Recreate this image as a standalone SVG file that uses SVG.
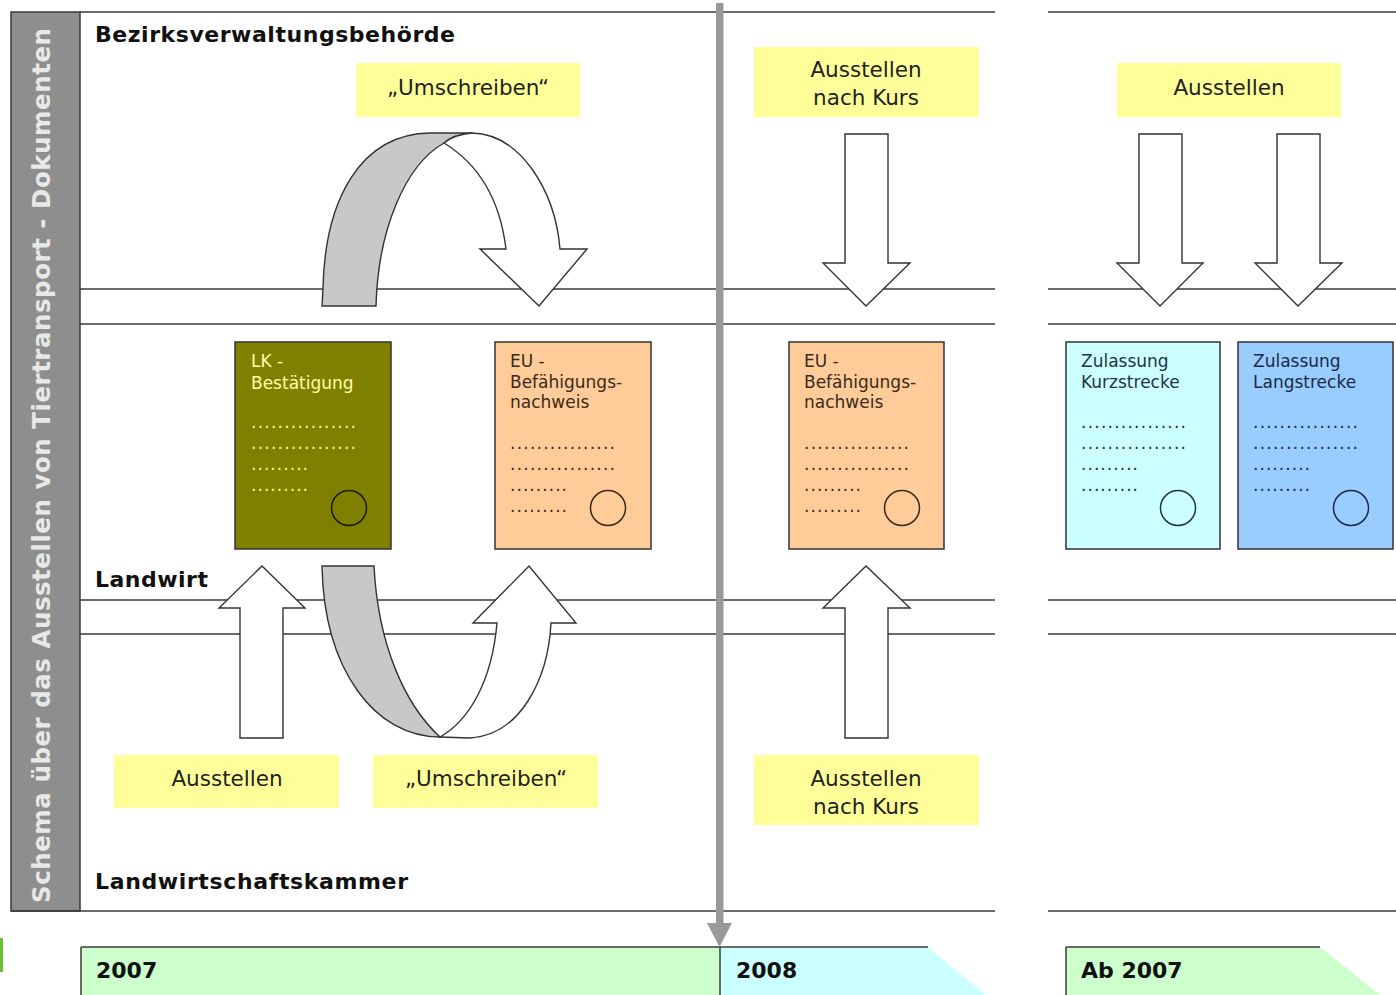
<svg xmlns="http://www.w3.org/2000/svg" width="1396" height="995" viewBox="0 0 1396 995">
<style>
.ln{stroke:#3a3a3a;stroke-width:1.5;fill:none}
.lbl{font-family:"DejaVu Sans","Liberation Sans",sans-serif;font-weight:bold;font-size:22px;fill:#111}
.yb{fill:#ffff99}
.yt{font-family:"DejaVu Sans","Liberation Sans",sans-serif;font-size:21.5px;fill:#222;text-anchor:middle}
.doc{stroke:#333;stroke-width:1.5}
.dt{font-family:"DejaVu Sans","Liberation Sans",sans-serif;font-size:17px}
.arr{fill:#fff;stroke:#333;stroke-width:1.4;stroke-linejoin:miter}
.band{fill:#c8c8c8;stroke:#333;stroke-width:1.4}
.yr{font-family:"DejaVu Sans","Liberation Sans",sans-serif;font-weight:bold;font-size:22px;fill:#111}
</style>

<g id="side-bar">
<rect x="11" y="12" width="69" height="899" fill="#8e8e8e" stroke="#3a3a3a" stroke-width="1.5"/>
<text transform="translate(50,465.5) rotate(-90)" text-anchor="middle" textLength="875" lengthAdjust="spacing" font-family="DejaVu Sans, Liberation Sans, sans-serif" font-weight="bold" font-size="24.5" fill="#e8e8e8">Schema über das Ausstellen von Tiertransport - Dokumenten</text>
</g>

<g id="lanes">
<line class="ln" x1="80" y1="12" x2="995" y2="12"/>
<line class="ln" x1="1048" y1="12" x2="1396" y2="12"/>
<line class="ln" x1="80" y1="289" x2="995" y2="289"/>
<line class="ln" x1="1048" y1="289" x2="1396" y2="289"/>
<line class="ln" x1="80" y1="324" x2="995" y2="324"/>
<line class="ln" x1="1048" y1="324" x2="1396" y2="324"/>
<line class="ln" x1="80" y1="600" x2="995" y2="600"/>
<line class="ln" x1="1048" y1="600" x2="1396" y2="600"/>
<line class="ln" x1="80" y1="634" x2="995" y2="634"/>
<line class="ln" x1="1048" y1="634" x2="1396" y2="634"/>
<line class="ln" x1="11" y1="911" x2="995" y2="911"/>
<line class="ln" x1="1048" y1="911" x2="1396" y2="911"/>
</g>

<g id="lane-labels">
<text class="lbl" x="95" y="42" textLength="360" lengthAdjust="spacing">Bezirksverwaltungsbehörde</text>
<text class="lbl" x="95" y="587" textLength="113" lengthAdjust="spacing">Landwirt</text>
<text class="lbl" x="95" y="889" textLength="313" lengthAdjust="spacing">Landwirtschaftskammer</text>
</g>

<g id="connectors">
<!-- top curved Umschreiben -->
<path class="band" d="M322,306 L323,288 C325,200 360,134 430,133 L472,133 C460,134 450,138 444,143 C405,165 378,230 376,306 Z"/>
<path class="arr" d="M472,133 C520,134 555,190 560,249 L587,249 L539,306 L480,249 L506,249 C500,200 480,165 444,143 C450,138 460,134 472,133 Z"/>
<!-- bottom curved Umschreiben -->
<path class="band" d="M322,566 L374,566 C378,645 405,705 440,737 C375,737 324,670 322,566 Z"/>
<path class="arr" d="M440,737 L470,738 C520,735 548,680 551,623 L576,623 L529,566 L473,623 L497,623 C492,680 470,720 440,737 Z"/>
<!-- straight up arrows -->
<path class="arr" d="M240,738 L240,608 L219,608 L262,566 L305,608 L283,608 L283,738 Z"/>
<path class="arr" d="M845,738 L845,608 L823,608 L866,566 L910,608 L888,608 L888,738 Z"/>
<!-- straight down arrows -->
<path class="arr" d="M845,134 L888,134 L888,263 L910,263 L866,306 L823,263 L845,263 Z"/>
<path class="arr" d="M1139,134 L1182,134 L1182,263 L1203,263 L1160,306 L1117,263 L1139,263 Z"/>
<path class="arr" d="M1277,134 L1320,134 L1320,263 L1342,263 L1298,306 L1255,263 L1277,263 Z"/>
</g>

<g id="label-umschreiben-top">
<rect class="yb" x="356" y="63" width="224" height="54"/>
<text class="yt" x="468" y="95">„Umschreiben“</text>
</g>
<g id="label-kurs-top">
<rect class="yb" x="754" y="47" width="225" height="70"/>
<text class="yt" x="866" y="77">Ausstellen</text>
<text class="yt" x="866" y="105">nach Kurs</text>
</g>
<g id="label-ausstellen-right">
<rect class="yb" x="1117" y="63" width="224" height="54"/>
<text class="yt" x="1229" y="95">Ausstellen</text>
</g>
<g id="label-ausstellen-bottom">
<rect class="yb" x="114" y="755" width="225" height="53"/>
<text class="yt" x="227" y="786">Ausstellen</text>
</g>
<g id="label-umschreiben-bottom">
<rect class="yb" x="373" y="755" width="225" height="53"/>
<text class="yt" x="486" y="786">„Umschreiben“</text>
</g>
<g id="label-kurs-bottom">
<rect class="yb" x="754" y="755" width="225" height="70"/>
<text class="yt" x="866" y="786">Ausstellen</text>
<text class="yt" x="866" y="814">nach Kurs</text>
</g>

<g id="doc-lk">
<rect class="doc" x="235" y="342" width="156" height="207" fill="#808000" stroke="#222"/>
<text class="dt" x="251" y="367" fill="#ffffa8">LK -</text>
<text class="dt" x="251" y="389" fill="#ffffa8">Bestätigung</text>
<text class="dt" x="251" y="428" fill="#ffff66" textLength="105" lengthAdjust="spacing">................</text>
<text class="dt" x="251" y="449" fill="#ffff66" textLength="105" lengthAdjust="spacing">................</text>
<text class="dt" x="251" y="470" fill="#ffff66" textLength="57" lengthAdjust="spacing">.........</text>
<text class="dt" x="251" y="491" fill="#ffff66" textLength="57" lengthAdjust="spacing">.........</text>
<circle cx="349" cy="508" r="17.5" fill="none" stroke="#1a1a00" stroke-width="1.5"/>
</g>

<g id="doc-eu-2007">
<rect class="doc" x="495" y="342" width="156" height="207" fill="#ffcc99"/>
<text class="dt" x="510" y="367" fill="#3a2a1a">EU -</text>
<text class="dt" x="510" y="388" fill="#3a2a1a">Befähigungs-</text>
<text class="dt" x="510" y="408" fill="#3a2a1a">nachweis</text>
<text class="dt" x="510" y="449" fill="#3a2a1a" textLength="105" lengthAdjust="spacing">................</text>
<text class="dt" x="510" y="470" fill="#3a2a1a" textLength="105" lengthAdjust="spacing">................</text>
<text class="dt" x="510" y="491" fill="#3a2a1a" textLength="57" lengthAdjust="spacing">.........</text>
<text class="dt" x="510" y="512" fill="#3a2a1a" textLength="57" lengthAdjust="spacing">.........</text>
<circle cx="608" cy="508" r="17.5" fill="none" stroke="#3a2a1a" stroke-width="1.5"/>
</g>

<g id="doc-eu-2008">
<rect class="doc" x="789" y="342" width="155" height="207" fill="#ffcc99"/>
<text class="dt" x="804" y="367" fill="#3a2a1a">EU -</text>
<text class="dt" x="804" y="388" fill="#3a2a1a">Befähigungs-</text>
<text class="dt" x="804" y="408" fill="#3a2a1a">nachweis</text>
<text class="dt" x="804" y="449" fill="#3a2a1a" textLength="105" lengthAdjust="spacing">................</text>
<text class="dt" x="804" y="470" fill="#3a2a1a" textLength="105" lengthAdjust="spacing">................</text>
<text class="dt" x="804" y="491" fill="#3a2a1a" textLength="57" lengthAdjust="spacing">.........</text>
<text class="dt" x="804" y="512" fill="#3a2a1a" textLength="57" lengthAdjust="spacing">.........</text>
<circle cx="902" cy="508" r="17.5" fill="none" stroke="#3a2a1a" stroke-width="1.5"/>
</g>

<g id="doc-kurzstrecke">
<rect class="doc" x="1066" y="342" width="154" height="207" fill="#ccffff"/>
<text class="dt" x="1081" y="367" fill="#223344">Zulassung</text>
<text class="dt" x="1081" y="388" fill="#223344">Kurzstrecke</text>
<text class="dt" x="1081" y="428" fill="#223344" textLength="105" lengthAdjust="spacing">................</text>
<text class="dt" x="1081" y="449" fill="#223344" textLength="105" lengthAdjust="spacing">................</text>
<text class="dt" x="1081" y="470" fill="#223344" textLength="57" lengthAdjust="spacing">.........</text>
<text class="dt" x="1081" y="491" fill="#223344" textLength="57" lengthAdjust="spacing">.........</text>
<circle cx="1178" cy="508" r="17.5" fill="none" stroke="#223344" stroke-width="1.5"/>
</g>

<g id="doc-langstrecke">
<rect class="doc" x="1238" y="342" width="155" height="207" fill="#99ccff"/>
<text class="dt" x="1253" y="367" fill="#1a2a44">Zulassung</text>
<text class="dt" x="1253" y="388" fill="#1a2a44">Langstrecke</text>
<text class="dt" x="1253" y="428" fill="#1a2a44" textLength="105" lengthAdjust="spacing">................</text>
<text class="dt" x="1253" y="449" fill="#1a2a44" textLength="105" lengthAdjust="spacing">................</text>
<text class="dt" x="1253" y="470" fill="#1a2a44" textLength="57" lengthAdjust="spacing">.........</text>
<text class="dt" x="1253" y="491" fill="#1a2a44" textLength="57" lengthAdjust="spacing">.........</text>
<circle cx="1351" cy="508" r="17.5" fill="none" stroke="#1a2a44" stroke-width="1.5"/>
</g>

<g id="timeline">
<rect x="81" y="947" width="639" height="48" fill="#ccffcc"/>
<polygon points="720,947 928,947 986,995 720,995" fill="#ccffff"/>
<polygon points="1066,947 1320,947 1380,995 1066,995" fill="#ccffcc"/>
<line class="ln" x1="81" y1="947" x2="928" y2="947" stroke="#111"/>
<line class="ln" x1="81" y1="947" x2="81" y2="995" stroke="#111"/>
<line class="ln" x1="720" y1="947" x2="720" y2="995" stroke="#111"/>
<line class="ln" x1="1066" y1="947" x2="1320" y2="947" stroke="#111"/>
<line class="ln" x1="1066" y1="947" x2="1066" y2="995" stroke="#111"/>
<text class="yr" x="96" y="978">2007</text>
<text class="yr" x="736" y="978">2008</text>
<text class="yr" x="1081" y="978">Ab 2007</text>
<rect x="0" y="938" width="3" height="34" fill="#6cc030"/>
</g>

<g id="divider">
<rect x="716" y="3" width="7.5" height="922" fill="#999"/>
<polygon points="707,923 732,923 719.5,947" fill="#999"/>
</g>
</svg>
